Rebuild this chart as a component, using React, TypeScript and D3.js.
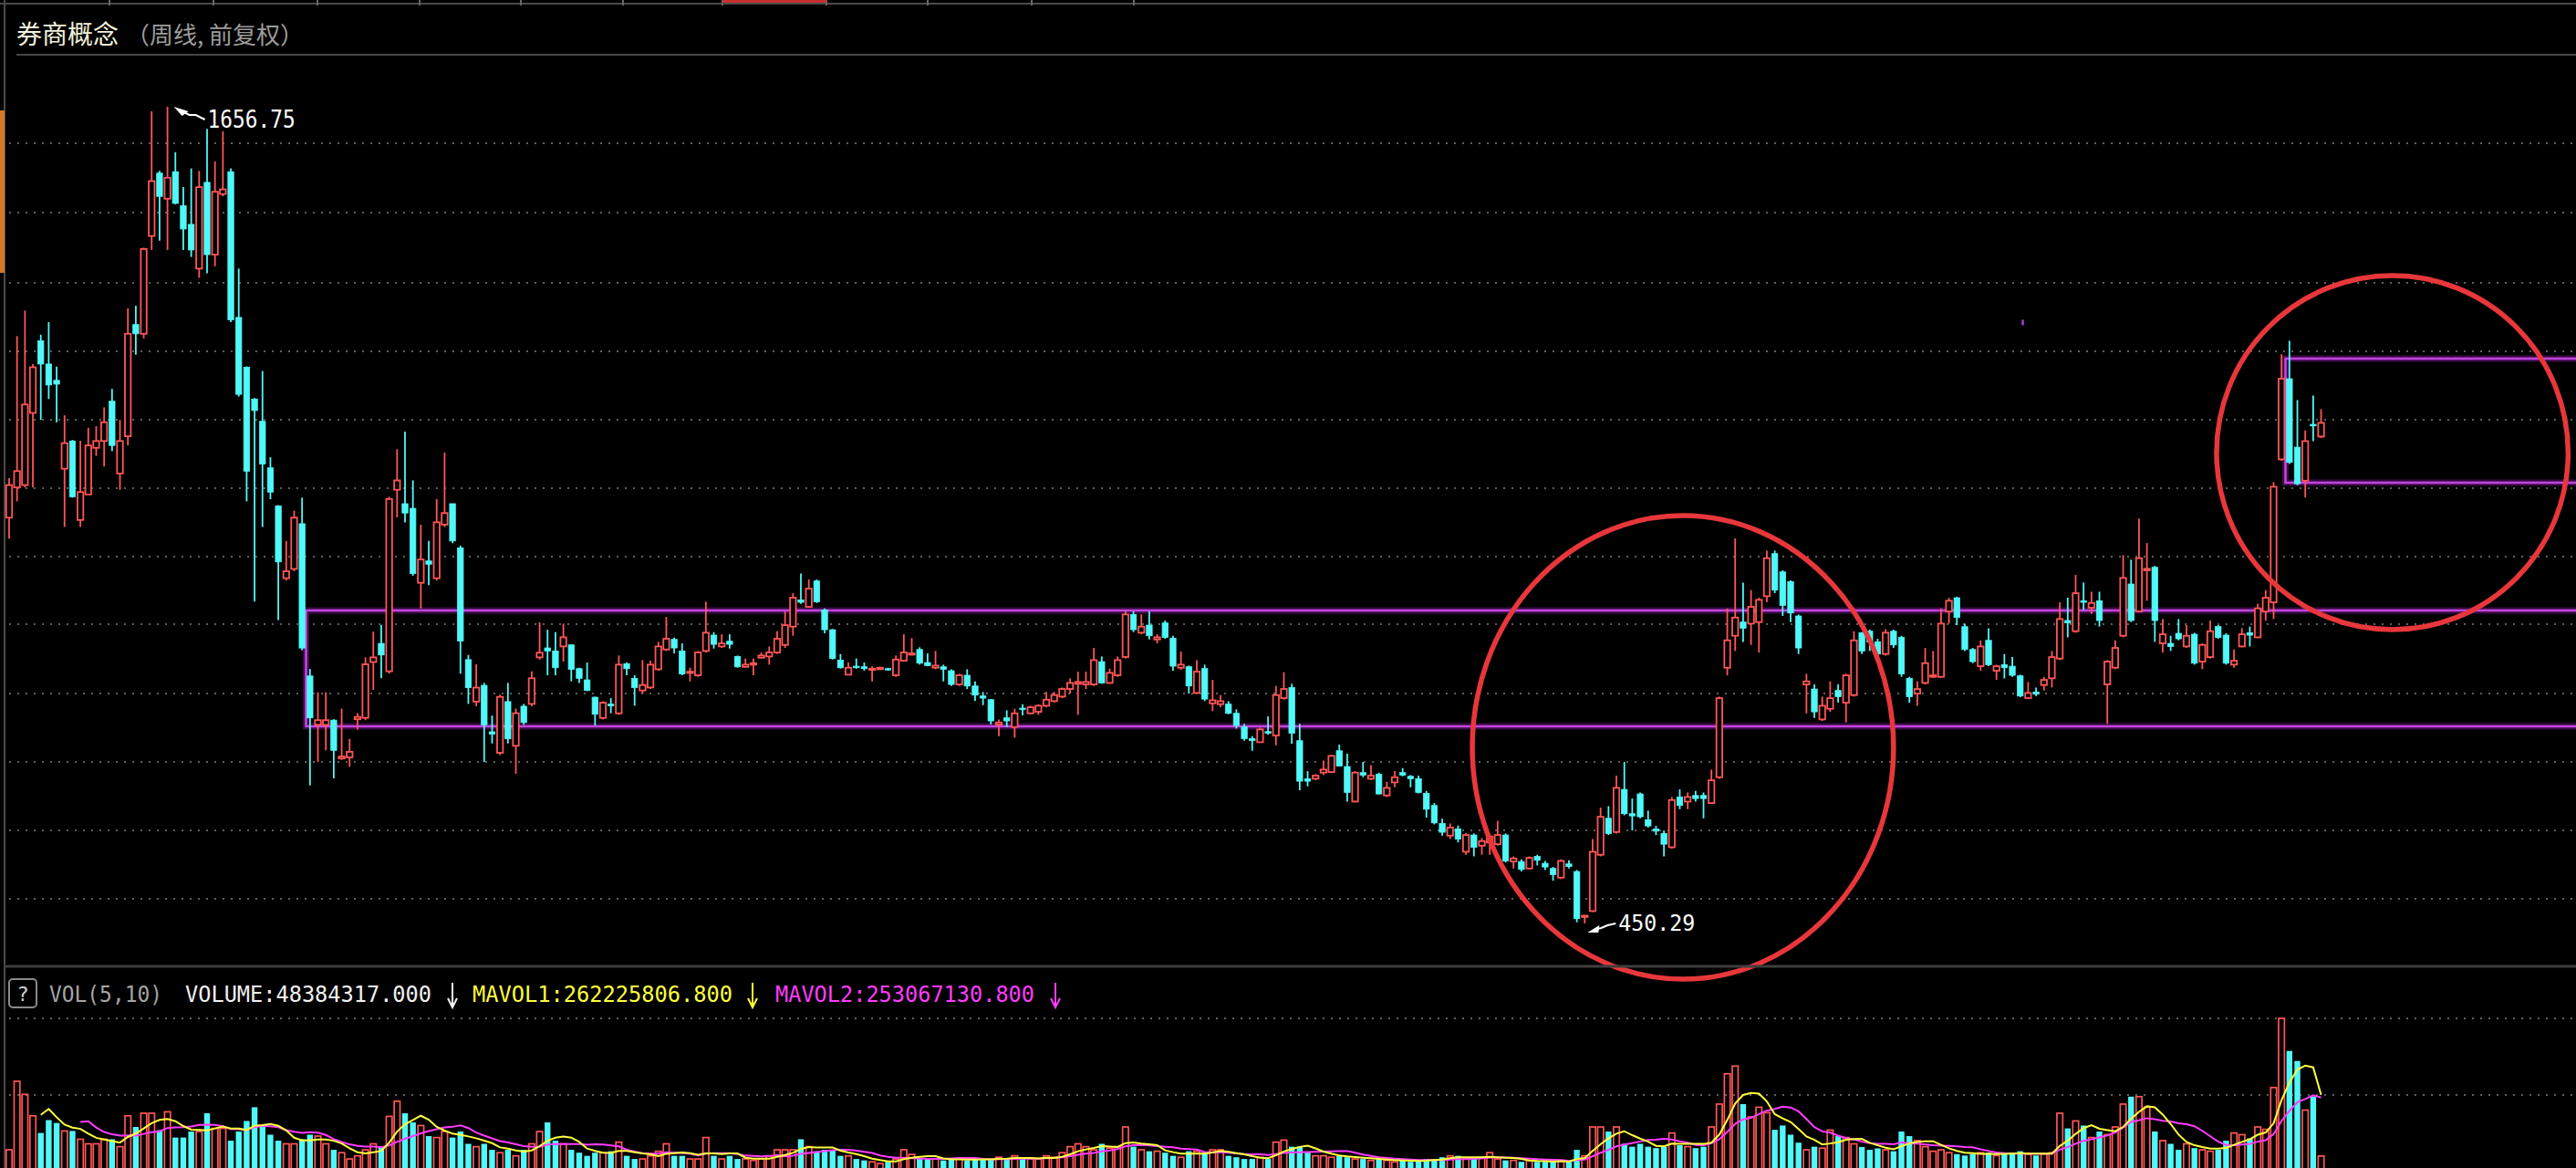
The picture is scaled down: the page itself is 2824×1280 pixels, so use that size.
import React from "react";
import * as d3 from "d3";

const W = 2824;
const H = 1280;

// weekly candles: [open, high, low, close]
const ohlc: number[][] = [
  [1049.8, 1108, 1018.8, 1097.9], [1094.4, 1318, 1073.8, 1118.5], [1097.9, 1355.8, 1094.4, 1216.9], [1204.5, 1276.7, 1094.4, 1271.9],
  [1311, 1320, 1194.2, 1276.7], [1276.7, 1338.6, 1225, 1245.8], [1252.6, 1273, 1190.7, 1247], [1122, 1201, 1036, 1159.8],
  [1163, 1164.6, 1079.3, 1080.7], [1046.3, 1163.3, 1036, 1087.6], [1084, 1182.5, 1084, 1156.4], [1152.9, 1185, 1141, 1163],
  [1163, 1212.7, 1125.4, 1190.7], [1221.7, 1240, 1148, 1156.4], [1115, 1194, 1091, 1163], [1170, 1359, 1156.4, 1321.4],
  [1335, 1362.7, 1290.5, 1321.4], [1321.4, 1448.7, 1314.5, 1446.6], [1465.9, 1650, 1445.2, 1547], [1558.7, 1562, 1459, 1524.3],
  [1520.9, 1656.75, 1445.2, 1551.9], [1560.8, 1589.7, 1512.7, 1514], [1510.6, 1538, 1445.2, 1476.2], [1483, 1565.6, 1434.9, 1445.2],
  [1417.7, 1562, 1404, 1538], [1545, 1624, 1410.8, 1438.3], [1438.3, 1575.9, 1421, 1531.2], [1527.8, 1620.6, 1524.3, 1534.7],
  [1560.8, 1565.6, 1338.6, 1342], [1345.5, 1417.7, 1228.6, 1232], [1271.9, 1273.3, 1073.8, 1118.5], [1225, 1226.5, 925.9, 1208],
  [1192, 1266.4, 1036, 1129], [1123.3, 1139, 1077, 1087.6], [1067, 1068.3, 898.4, 984.4], [960.3, 1015.4, 956.9, 970.6],
  [974, 1060, 970.6, 1049.8], [1040.8, 1079.3, 853.8, 857.2], [815.9, 826.2, 654.3, 754], [743.7, 791.9, 688.7, 750.6],
  [743.7, 791.9, 706, 750.6], [750.6, 752, 664.6, 706], [694, 767.7, 692, 696.9], [695.6, 723, 681.8, 703.8],
  [752, 760.9, 736.8, 755.4], [754, 843.4, 750.6, 833.1], [836.5, 881.2, 795.3, 843.4], [864, 891.5, 812.5, 846.9],
  [822.8, 1080.7, 819.3, 1077.3], [1091, 1150.9, 1050, 1104.8], [1070.4, 1177, 1042.9, 1056.6], [1063.5, 1104.8, 963.8, 967.2],
  [953.5, 1039.4, 915.6, 987.9], [985.8, 1015.4, 950, 981], [960.3, 1077.3, 956.9, 1042.9], [1039.4, 1146, 1036, 1056.6],
  [1070.4, 1070.4, 1012, 1015.4], [1005, 1008.5, 819.3, 867.5], [840, 846.9, 774.6, 798.7], [778, 833, 771.2, 798.7],
  [802, 805.6, 688.7, 743.7], [733.4, 757.4, 716.2, 730], [702.4, 788.4, 699, 785], [778, 805.6, 716.2, 723],
  [712.7, 767.7, 671.4, 760.9], [771.2, 774.6, 743.7, 747.1], [774.6, 822.8, 771.2, 812.5], [843.4, 895, 840, 850.3],
  [857.3, 884.2, 816.9, 852.8], [852.8, 880.7, 816.9, 828.1], [859.5, 893.3, 837.1, 873], [861.8, 862.7, 807.9, 825.8],
  [826.7, 828.1, 805.6, 812.4], [810.1, 835.7, 793.5, 794.4], [784.5, 785.4, 742.7, 759.3], [753.9, 778.6, 751.7, 776.4],
  [774.2, 783.1, 760.7, 771.9], [760.7, 846.1, 758.4, 832.6], [833.9, 835.7, 816.9, 826.7], [812.4, 816.9, 771.9, 798.9],
  [794.4, 839.3, 789.9, 802.5], [798.9, 838.4, 796.6, 832.6], [825.8, 866.3, 823.6, 859.5], [855, 903.1, 852.8, 870.8],
  [869.9, 872.6, 849.2, 857.3], [852.8, 864, 816.9, 819.1], [820.4, 828.1, 807.9, 822.2], [816.9, 852.8, 814.6, 850.6],
  [852.8, 925.6, 850.6, 879.8], [876.2, 880.7, 856.4, 862.7], [859.5, 877.5, 857.3, 864], [867.2, 877.5, 856.4, 862.7],
  [844.7, 846.1, 828.1, 829.4], [829.4, 841.6, 828.1, 832.6], [832.6, 841.6, 816.9, 834.8], [842.9, 850.6, 841.6, 846.1],
  [844.7, 859.5, 832.6, 850.6], [850.6, 882, 848.3, 870.8], [861.8, 911.2, 857.3, 891], [888.8, 938.2, 875.3, 931.5],
  [928.3, 967.4, 922.5, 924.7], [918, 958.4, 916.6, 944.9], [956.2, 958.4, 923.8, 925.6], [913.5, 915.7, 878.9, 884.2],
  [884.2, 885.2, 840.2, 841.6], [839.3, 848.3, 826.7, 828.1], [817.8, 835.7, 816.9, 828.1], [830.3, 841.6, 826.7, 828.1],
  [829.4, 835.7, 823.6, 826.7], [824.9, 830.3, 807.9, 826.7], [825.8, 829.4, 824.9, 828.1], [826.7, 828.1, 823.6, 824.9],
  [816.9, 846.1, 814.6, 840.2], [838.4, 877.5, 837.1, 850.6], [847.4, 871.7, 846.1, 849.2], [855, 858.2, 832.6, 834.8],
  [835.7, 849.2, 830.3, 831.2], [828.1, 852.8, 825.8, 831.2], [829.4, 832.6, 807.9, 825.8], [823.6, 825.8, 801.1, 803.4],
  [803.4, 819.1, 801.1, 816.9], [816.9, 825.8, 796.6, 801.1], [801.1, 807.9, 778.7, 787.6], [786.3, 792.2, 772.8, 783.2],
  [780.9, 781.8, 744.1, 749.5], [744.1, 751.7, 727, 747.2], [754, 765.2, 740.5, 749.5], [740.5, 767.4, 724.8, 760.7],
  [768.3, 774.2, 757.6, 766.6], [760.7, 771.9, 759.4, 769.7], [763, 774.2, 758.5, 771.9], [771.9, 792.2, 769.7, 780.9],
  [778.7, 792.2, 776.4, 787.7], [785.4, 798.9, 783.2, 796.7], [796.7, 812.4, 789.9, 805.6], [804.3, 822.3, 758.5, 807],
  [803.4, 822.3, 796.7, 807], [803.4, 857.3, 801.1, 839.3], [837.1, 844.7, 804.3, 805.6], [805.6, 826.8, 804.3, 820.5],
  [816.9, 844.7, 814.6, 839.3], [843.9, 911.3, 841.6, 906.8], [906.8, 911.3, 880.7, 884.3], [879.8, 906.8, 877.5, 888.8],
  [891, 911.3, 869.9, 875.3], [869.9, 877.5, 864.1, 873], [894.2, 897.8, 870.8, 873], [871.7, 875.3, 823.6, 830.4],
  [828.1, 851.9, 825, 832.6], [829.5, 831.3, 789.9, 801.1], [790.8, 839.3, 789, 822.3], [826.8, 832.6, 778.7, 781.8],
  [775.5, 810.1, 763.9, 780], [774.2, 787.7, 769.7, 778.7], [774.2, 778.7, 759.4, 760.7], [760.7, 766.5, 738.2, 742.7],
  [740.5, 745, 720.3, 723.4], [723.4, 727, 705.4, 720.3], [718, 739.6, 717.1, 736.9], [733.7, 756.2, 729.2, 731.5],
  [727.9, 801.2, 713.5, 787.7], [783.2, 821.4, 780.9, 796.7], [798.9, 804.3, 715.8, 731.5], [720.3, 745, 647, 660.5],
  [664.1, 675.3, 652.9, 660.5], [664.1, 670.8, 661.8, 668.6], [673.1, 691, 669.5, 677.6], [674, 699.2, 673.1, 697.8],
  [705.4, 714.4, 682.1, 683], [682.1, 700.9, 630.4, 643.9], [630.4, 675.3, 629, 673.1], [673.1, 688.8, 666.3, 669.5],
  [664.1, 684.3, 661.8, 668.6], [670.8, 673.1, 640.7, 641.6], [639.4, 659.6, 637.1, 650.6], [658.7, 675.3, 651.5, 666.3],
  [673.1, 679.8, 667.7, 669.5], [667.7, 669.5, 651.5, 664.1], [664.1, 668.6, 642.5, 643.9], [642.5, 646.1, 606.6, 619.1],
  [624.5, 628.1, 596.7, 598.9], [598, 605, 580, 585], [580, 598, 575, 592], [590, 595, 570, 575],
  [556.2, 584, 551.7, 580.9], [580.9, 583.2, 549.4, 562.9], [565.2, 576.4, 551.7, 571.9], [569.7, 583.2, 551.7, 578.7],
  [567.4, 602, 565.2, 580.9], [580.9, 583.2, 540.5, 542.7], [541.8, 549.4, 531.5, 546.3], [541.8, 545, 527, 530.1],
  [531.5, 549.4, 530.1, 547.2], [549.4, 551.7, 536, 543.6], [539.1, 542.7, 529.2, 533.7], [531.5, 533.7, 513.5, 522.5],
  [518, 545, 515.7, 542.7], [538.2, 543.6, 531.5, 534.6], [527, 529.2, 452, 457.3], [460.5, 462.7, 450.29, 461.8],
  [468.6, 575.1, 467.2, 556.2], [551.7, 621.4, 549.4, 607.9], [605.6, 623.6, 580.9, 583.2], [585.4, 668.5, 583.2, 650.6],
  [648.3, 688.8, 610.1, 612.4], [612.4, 634.8, 587.6, 609.2], [641.6, 643.8, 605.6, 607.9], [603.4, 616.9, 592.1, 594.4],
  [589.9, 594.4, 580.9, 586.7], [583.2, 587.6, 549.4, 567.4], [562.9, 637.1, 560.7, 632.6], [637.1, 648.3, 619.1, 624.5],
  [630.3, 643.8, 619.1, 637.1], [639.3, 646.1, 630.3, 634.8], [639.3, 643.8, 605.6, 634.8], [628.1, 677.5, 627.2, 661.8],
  [666.3, 785.4, 664, 783.1], [828.1, 915.7, 816.8, 868.5], [875.3, 1019.1, 852.8, 902.2], [895.5, 953.9, 866.3, 886.5],
  [893.2, 942.7, 861.8, 918], [895.5, 931.4, 850.5, 928.3], [933.7, 1001.1, 924.7, 989.9], [996.6, 1001.1, 938.2, 942.7],
  [969.6, 971.9, 904.5, 920.2], [955.3, 957.1, 895.5, 909], [904.5, 906.7, 848.3, 857.3], [803.4, 819.1, 760.7, 807.9],
  [796.6, 803.4, 754, 762.9], [751.7, 785.4, 749.4, 771.9], [767.4, 807.9, 762.9, 783.1], [794.4, 803.4, 776.4, 785.4],
  [776.4, 819.1, 747.2, 816.8], [787.6, 882, 785.4, 868.5], [879.8, 880.7, 848.3, 852.8], [882, 884.3, 852.8, 866.3],
  [866.3, 870.8, 839.3, 848.3], [848.3, 885.1, 846, 879.8], [882, 884.3, 857.3, 861.8], [873, 875.3, 814.6, 819.1],
  [812.3, 814.6, 776.4, 785.4], [789.9, 807.9, 771.9, 796.6], [805.6, 857.3, 803.4, 834.8], [814.6, 852.8, 813.3, 816.8],
  [814.6, 915.7, 813.3, 893.2], [911.2, 931.4, 893.2, 927], [931.4, 932.8, 891, 902.2], [888.7, 893.2, 852.8, 855],
  [855, 857.3, 834.8, 837.1], [830.3, 868.5, 823.6, 859.5], [868.5, 886.5, 830.3, 832.6], [823.6, 832.6, 810.1, 830.3],
  [832.6, 848.3, 812.3, 828.1], [830.3, 843.8, 814.6, 816.9], [816, 817.8, 784.5, 786.3], [783.2, 807, 781.8, 790.8],
  [792.2, 798.9, 786.3, 789], [802.5, 814.6, 794.4, 810.1], [812.4, 852.8, 798.9, 843.8], [841.6, 924.7, 839.3, 900],
  [897.8, 931.5, 873, 894.2], [882, 965.2, 879.8, 938.2], [927, 953.9, 913.5, 924.7], [916.6, 940.4, 907.6, 923.8],
  [927, 940.4, 888.8, 897.8], [803.4, 839.3, 744.9, 837.1], [828.1, 868.5, 825.9, 857.3], [875.3, 994.4, 873, 960.7],
  [951.7, 987.6, 895.5, 897.8], [911.2, 1048.3, 910.3, 989.9], [971.9, 1012.3, 927, 974.2], [976.4, 978.6, 866.3, 897.8],
  [864, 900, 850.6, 877.5], [864, 875.3, 852.8, 859.5], [878.9, 900, 868.5, 870.8], [859.5, 891, 857.3, 875.3],
  [877.5, 879.8, 832.6, 834.8], [837.1, 864, 825.9, 861.8], [843.8, 897.8, 841.6, 882], [888.8, 891, 870.8, 873],
  [876.2, 878.9, 832.6, 834.8], [832.6, 855, 828.1, 838.4], [859.5, 886.5, 858.2, 877.5], [879.8, 888.8, 859.5, 876.2],
  [873, 922.5, 871.7, 915.7], [911.2, 942.6, 897.7, 931.4], [924.6, 1102.2, 899.9, 1095.4], [1135.9, 1291, 1133.6, 1255],
  [1255, 1311.1, 1129.1, 1131.4], [1153.8, 1223.5, 1097.7, 1099.9], [1104.4, 1178.6, 1079.7, 1162.8], [1187.6, 1230.2, 1162.8, 1185.3],
  [1169.6, 1210, 1167.3, 1189.8],
];

// weekly volume, millions
const volume: number[] = [
  70, 310, 264, 189, 129, 174, 164, 136, 136, 107,
  91, 91, 107, 107, 81, 189, 150, 198, 198, 139,
  203, 113, 113, 134, 134, 198, 145, 145, 102, 134,
  171, 219, 155, 123, 102, 91, 91, 107, 123, 118,
  91, 70, 60, 38, 49, 70, 91, 81, 187, 240,
  198, 166, 155, 118, 113, 134, 113, 134, 91, 81,
  91, 70, 60, 70, 49, 70, 91, 134, 166, 102,
  91, 70, 60, 49, 60, 60, 65, 97, 49, 38,
  38, 49, 65, 91, 49, 49, 38, 38, 113, 49,
  38, 49, 38, 38, 33, 38, 49, 70, 70, 70,
  107, 81, 65, 70, 70, 49, 49, 38, 33, 28,
  22, 28, 38, 70, 54, 38, 38, 38, 33, 38,
  38, 33, 38, 38, 38, 44, 38, 49, 38, 38,
  38, 49, 44, 60, 81, 91, 81, 70, 91, 76,
  81, 150, 81, 70, 65, 65, 60, 49, 44, 65,
  65, 60, 70, 70, 49, 44, 38, 38, 44, 38,
  97, 104, 81, 81, 60, 49, 49, 44, 49, 44,
  38, 38, 33, 38, 33, 28, 33, 28, 33, 38,
  38, 44, 49, 49, 38, 38, 44, 60, 38, 33,
  33, 28, 33, 28, 28, 28, 33, 28, 70, 49,
  150, 150, 134, 150, 91, 81, 91, 81, 76, 81,
  129, 86, 81, 76, 81, 150, 230, 336, 363, 230,
  185, 219, 200, 140, 155, 123, 95, 70, 81, 76,
  139, 118, 113, 91, 80, 70, 75, 70, 65, 134,
  118, 102, 81, 65, 70, 60, 55, 50, 55, 60,
  60, 50, 55, 60, 65, 55, 50, 55, 60, 198,
  145, 171, 155, 113, 134, 123, 150, 230, 256, 256,
  219, 134, 102, 91, 70, 91, 76, 70, 65, 70,
  102, 129, 123, 110, 150, 141.5, 288, 530, 416, 380.74,
  209, 257, 48.384317,
];

const priceGrid = [1602.8, 1500.4, 1396.6, 1295.5, 1194.4, 1093.2, 992.1, 892.4, 789.9, 688.8, 587.7, 486.7];
const volGrid = [261.6, 529.7];

const titleMain = "券商概念";
const titleSub = "（周线, 前复权）";
const highMark = { i: 20, p: 1656.75, text: "1656.75" };
const lowMark = { i: 199, p: 450.29, text: "450.29" };

// horizontal range lines: start index, top price, bottom price
const rangeBoxes = [
  { i0: 37.5, top: 912.6, bottom: 741.4 },
  { i0: 287.5, top: 1284.7, bottom: 1101.3 },
];
// hand-drawn circles: centre (index, price) and radii (index units, price units)
const circles = [
  { i: 211.4, p: 710.4, ri: 26.6, rp: 342.4 },
  { i: 301.0, p: 1145.8, ri: 22.2, rp: 261.5 },
];
const strayMark = { i: 254.3, p: 1338 };

const volHeader = [
  { text: "VOL(5,10)", color: "#a4a4a4", x: 54, w: 124 },
  { text: "VOLUME:48384317.000", color: "#f2f2f2", x: 203, w: 270 },
  { text: "MAVOL1:262225806.800", color: "#ffff3c", x: 518, w: 285 },
  { text: "MAVOL2:253067130.800", color: "#ff3cff", x: 850, w: 284 },
];
const headerArrows = [
  { x: 496, color: "#f2f2f2" },
  { x: 825, color: "#ffff3c" },
  { x: 1157, color: "#ff3cff" },
];

const tabXs = [120, 234, 348, 460, 571, 683, 792, 906, 1017, 1131, 1243];

const RED = "#ff5656";
const CYAN = "#50f8f8";

export default function App() {
  const N = ohlc.length;
  const step = 8.68;
  const x = d3.scaleLinear().domain([0, N - 1]).range([10, 10 + step * (N - 1)]);
  const y = d3.scaleLinear().domain([450.29, 1656.75]).range([1012, 117]);
  const yv = d3.scaleLinear().domain([0, 530]).range([1282, 1116]);
  const bw = 6.4;

  const ma = (n: number) =>
    volume.map((_, i) => (i < n - 1 ? null : (d3.mean(volume.slice(i - n + 1, i + 1)) as number)));
  const ma5 = ma(5);
  const ma10 = ma(10);
  const line = d3
    .line<number | null>()
    .defined((d) => d !== null)
    .x((_, i) => x(i))
    .y((d) => yv(d as number));

  const hx = x(highMark.i);
  const hy = y(highMark.p);
  const lx = x(lowMark.i);
  const ly = y(lowMark.p);

  return (
    <>
      <style>{"body{margin:0;background:#000;overflow:hidden}"}</style>
      <svg width={W} height={H} style={{ display: "block", background: "#000" }}>
        <rect x={0} y={0} width={W} height={H} fill="#000" />
        {/* top tab strip */}
        <line x1={0} x2={W} y1={4} y2={4} stroke="#4a4a4a" strokeWidth={2} />
        {tabXs.map((t) => (
          <line key={t} x1={t} x2={t} y1={0} y2={6} stroke="#666" strokeWidth={2} />
        ))}
        <line x1={792} x2={906} y1={1.5} y2={1.5} stroke="#c83030" strokeWidth={3} />
        {/* left border */}
        <line x1={5} x2={5} y1={0} y2={H} stroke="#4a4a4a" strokeWidth={2} />
        <rect x={0} y={121} width={5} height={178} fill="#d27a2a" />
        {/* title */}
        <text x={18} y={48} fontFamily="'Noto Sans CJK SC'" fontSize={28} fill="#f2f2dc">
          {titleMain}
        </text>
        <text x={138} y={48} fontFamily="'Noto Sans CJK SC'" fontSize={26} fill="#9c9c9c">
          {titleSub}
        </text>
        <line x1={18} x2={W} y1={60} y2={60} stroke="#474747" strokeWidth={2} />

        {/* price grid */}
        {priceGrid.map((g) => (
          <line key={g} x1={10} x2={W} y1={y(g)} y2={y(g)} stroke="#5e5e5e" strokeWidth={2} strokeDasharray="2 7" />
        ))}

        {/* range lines */}
        {rangeBoxes.map((b, k) => {
          const x0 = x(b.i0);
          const yt = y(b.top);
          const yb = y(b.bottom);
          const d = `M${W},${yt}H${x0}V${yb}H${W}`;
          return (
            <g key={k} fill="none">
              <path d={d} stroke="#a822c8" strokeWidth={7} opacity={0.35} />
              <path d={d} stroke="#c445de" strokeWidth={2.6} />
            </g>
          );
        })}

        {/* candles */}
        {ohlc.map(([o, h, l, c], i) => {
          const cx = x(i);
          const up = c >= o;
          const col = up ? RED : CYAN;
          const top = y(Math.max(o, c));
          const bot = y(Math.min(o, c));
          const bh = Math.max(bot - top, 1.4);
          return (
            <g key={i}>
              <line x1={cx} x2={cx} y1={y(h)} y2={y(l)} stroke={col} strokeWidth={1.8} />
              {up ? (
                <rect x={cx - bw / 2} y={top} width={bw} height={bh} fill="#000" stroke={col} strokeWidth={1.8} />
              ) : (
                <rect x={cx - bw / 2} y={top} width={bw} height={bh} fill={col} stroke={col} strokeWidth={0.8} />
              )}
            </g>
          );
        })}

        {/* stray mark */}
        <rect x={x(strayMark.i) - 1} y={y(strayMark.p) - 3} width={2.5} height={6} fill="#a040d0" />

        {/* high / low labels */}
        <path
          d={`M${hx + 41},${hy + 14} L${hx + 31},${hy + 9} L${hx + 24},${hy + 9} L${hx + 14},${hy + 4}`}
          fill="none"
          stroke="#fff"
          strokeWidth={2}
        />
        <polygon points={`${hx + 7},${hy} ${hx + 23},${hy + 5} ${hx + 16},${hy + 10}`} fill="#fff" />
        <text
          x={hx + 44}
          y={hy + 23}
          fontFamily="'DejaVu Sans Mono'"
          fontSize={26}
          fill="#fff"
          textLength={96}
          lengthAdjust="spacingAndGlyphs"
        >
          {highMark.text}
        </text>
        <path
          d={`M${lx + 34},${ly} L${lx + 25},${ly + 2} L${lx + 18},${ly + 5} L${lx + 10},${ly + 7}`}
          fill="none"
          stroke="#fff"
          strokeWidth={2}
        />
        <polygon points={`${lx + 3},${ly + 10} ${lx + 16},${ly + 2} ${lx + 15},${ly + 10}`} fill="#fff" />
        <text
          x={lx + 37}
          y={ly + 8}
          fontFamily="'DejaVu Sans Mono'"
          fontSize={25}
          fill="#fff"
          textLength={84}
          lengthAdjust="spacingAndGlyphs"
        >
          {lowMark.text}
        </text>

        {/* red circles */}
        {circles.map((c, k) => (
          <ellipse
            key={k}
            cx={x(c.i)}
            cy={y(c.p)}
            rx={x(c.i + c.ri) - x(c.i)}
            ry={y(c.p - c.rp) - y(c.p)}
            fill="none"
            stroke="#e8373b"
            strokeWidth={5.5}
          />
        ))}

        {/* panel separator */}
        <line x1={5} x2={W} y1={1059} y2={1059} stroke="#3e3e3e" strokeWidth={3} />

        {/* volume header */}
        <rect x={10} y={1073} width={30} height={31} rx={4} fill="none" stroke="#8a8a8a" strokeWidth={2} />
        <text x={25} y={1097} textAnchor="middle" fontFamily="'DejaVu Sans Mono'" fontSize={22} fill="#d0d0d0">
          ?
        </text>
        {volHeader.map((t) => (
          <text
            key={t.text}
            x={t.x}
            y={1098}
            fontFamily="'DejaVu Sans Mono'"
            fontSize={24}
            fill={t.color}
            textLength={t.w}
            lengthAdjust="spacingAndGlyphs"
          >
            {t.text}
          </text>
        ))}
        {headerArrows.map((a) => (
          <path
            key={a.x}
            d={`M${a.x},1077 V1104 M${a.x - 5},1094 L${a.x},1104 L${a.x + 5},1094`}
            fill="none"
            stroke={a.color}
            strokeWidth={2}
          />
        ))}

        {/* volume grid */}
        {volGrid.map((g) => (
          <line key={g} x1={10} x2={W} y1={yv(g)} y2={yv(g)} stroke="#5e5e5e" strokeWidth={2} strokeDasharray="2 7" />
        ))}

        {/* volume bars */}
        {volume.map((v, i) => {
          const [o, , , c] = ohlc[i];
          const up = c >= o;
          const cx = x(i);
          const top = yv(v);
          return up ? (
            <rect key={i} x={cx - bw / 2} y={top} width={bw} height={1282 - top} fill="none" stroke={RED} strokeWidth={1.7} />
          ) : (
            <rect key={i} x={cx - bw / 2} y={top} width={bw} height={1282 - top} fill={CYAN} />
          );
        })}
        <path d={line(ma10) || ""} fill="none" stroke="#ff3cff" strokeWidth={2} />
        <path d={line(ma5) || ""} fill="none" stroke="#ffff3c" strokeWidth={2} />
      </svg>
    </>
  );
}
